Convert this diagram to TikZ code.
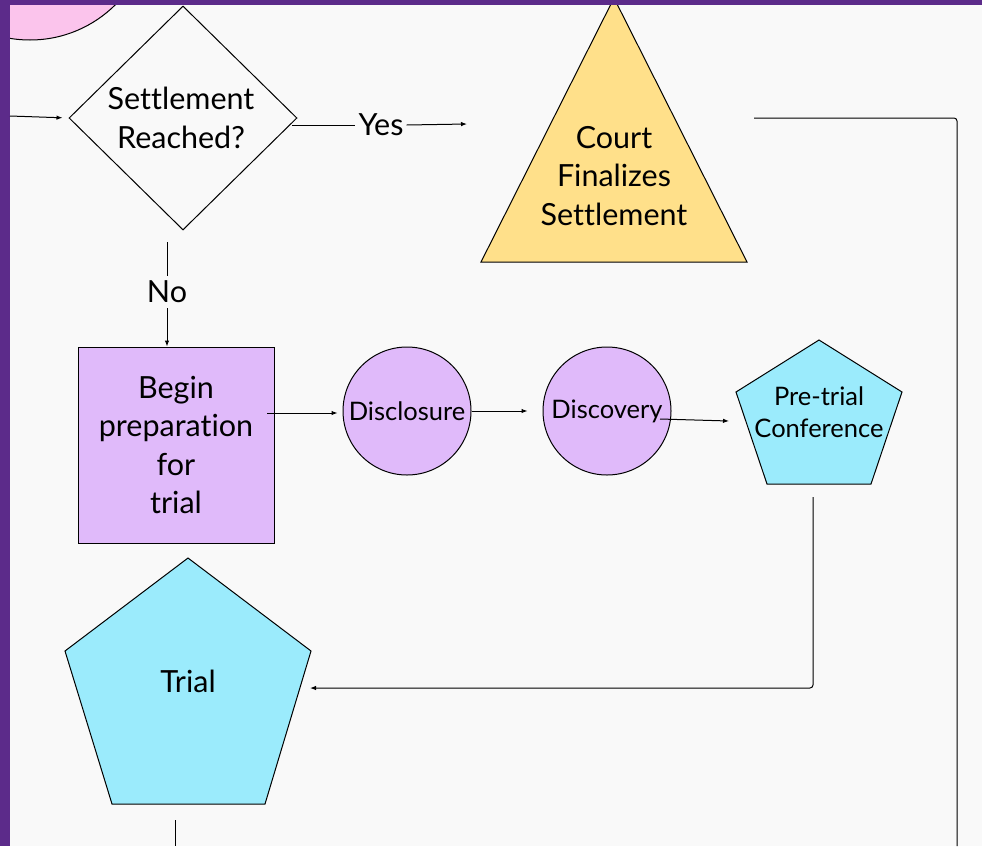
\documentclass[tikz,border=0pt]{standalone}
\usepackage{fontspec}
\setmainfont{Lato}[Ligatures=NoCommon]
\usetikzlibrary{shapes.geometric,arrows.meta}
\definecolor{framepurple}{RGB}{92,43,138}
\definecolor{bgwhite}{RGB}{249,249,249}
\definecolor{pinkfill}{RGB}{251,196,236}
\definecolor{lavender}{RGB}{224,186,250}
\definecolor{skyfill}{RGB}{155,235,252}
\definecolor{sandfill}{RGB}{255,224,138}
\begin{document}
\begin{tikzpicture}[x=1pt,y=-1pt,
		bigtext/.style={font=\fontsize{30.5}{38.5}\selectfont, align=center, inner sep=0pt},
		smalltext/.style={font=\fontsize{25.5}{32}\selectfont, align=center, inner sep=0pt},
		shapeline/.style={draw=black, line width=1pt},
		myarrow/.style={-{Latex[length=6pt,width=4.5pt]}, line width=1pt},
		myline/.style={line width=1pt, rounded corners=3pt}
	]

	\useasboundingbox (0,0) rectangle (982,846);
	\fill[bgwhite] (0,0) rectangle (982,846);

	% pink circle in the corner
	\begin{scope}
		\clip (10,5) rectangle (982,846);
		\filldraw[fill=pinkfill, shapeline] (30,-81) circle[radius=121];
	\end{scope}

	% shapes
	\node[diamond, shapeline, fill=bgwhite, minimum width=228pt, minimum height=224pt, inner sep=0pt] (settle) at (183,118) {};
	\node[bigtext] (settletext) at (181,118) {Settlement\\ Reached?};

	\filldraw[shapeline, fill=sandfill] (614,-2) -- (747,262) -- (481,262) -- cycle;
	\node[bigtext] (court) at (614,176) {Court\\Finalizes\\Settlement};

	\node[rectangle, shapeline, fill=lavender, minimum width=196pt, minimum height=196pt, bigtext] (prep) at (176,445) {Begin\\preparation\\for\\ trial};

	\node[circle, shapeline, fill=lavender, minimum size=128pt, smalltext] (disclosure) at (407,411) {Disclosure};
	\node[circle, shapeline, fill=lavender, minimum size=128pt, smalltext] (discovery) at (607,411) {Discovery};

	\filldraw[shapeline, fill=skyfill] (819,340) -- (902,392) -- (871,484) -- (767,484) -- (736,392) -- cycle;
	\node[smalltext] (pretrial) at (819,412) {Pre-trial\\Conference};

	\filldraw[shapeline, fill=skyfill] (188,558) -- (311,651) -- (265,804) -- (112,804) -- (65,651) -- cycle;
	\node[bigtext] (trial) at (188,681) {Trial};

	% frame
	\fill[framepurple] (0,0) rectangle (10,846);
	\fill[framepurple] (0,0) rectangle (982,5);

	% labels
	\node[bigtext, inner xsep=3pt] (yes) at (381,125) {Yes};
	\node[bigtext, inner ysep=5pt] (no) at (167,292) {No};

	% connectors
	\coordinate (inleft) at (10,116);
	\draw[myarrow, shorten >=6pt] (inleft) -- (settle.west);

	\coordinate (yesstart) at (292,125);
	\coordinate (yesend) at (467,124);
	\draw[myline] (yesstart) -- (yes.west);
	\draw[myarrow] (yes.east) -- (yesend);

	\coordinate (courtout) at (754,118);
	\coordinate (rightdown) at (957,846);
	\draw[myline] (courtout) -| (rightdown);

	\coordinate (nostart) at (167,242);
	\draw[myline] (nostart) -- (no.north);
	\draw[myarrow] (no.south) -- (no |- prep.north);

	\coordinate (prepout) at (267,413);
	\draw[myarrow, shorten >=5pt] (prepout) -- (disclosure.west |- prepout);
	\draw[myarrow, shorten >=15pt] (disclosure.east) -- (discovery.west);

	\coordinate (discout) at (660,419);
	\coordinate (pretrialin) at (729,421);
	\draw[myarrow] (discout) -- (pretrialin);

	\coordinate (pretrialout) at (813,497);
	\coordinate (trialin) at (310,688);
	\draw[myarrow, rounded corners=3pt] (pretrialout) |- (trialin);

	\coordinate (trialout) at (175,820);
	\coordinate (trialdown) at (175,846);
	\draw[myline] (trialout) -- (trialdown);

\end{tikzpicture}
\end{document}
